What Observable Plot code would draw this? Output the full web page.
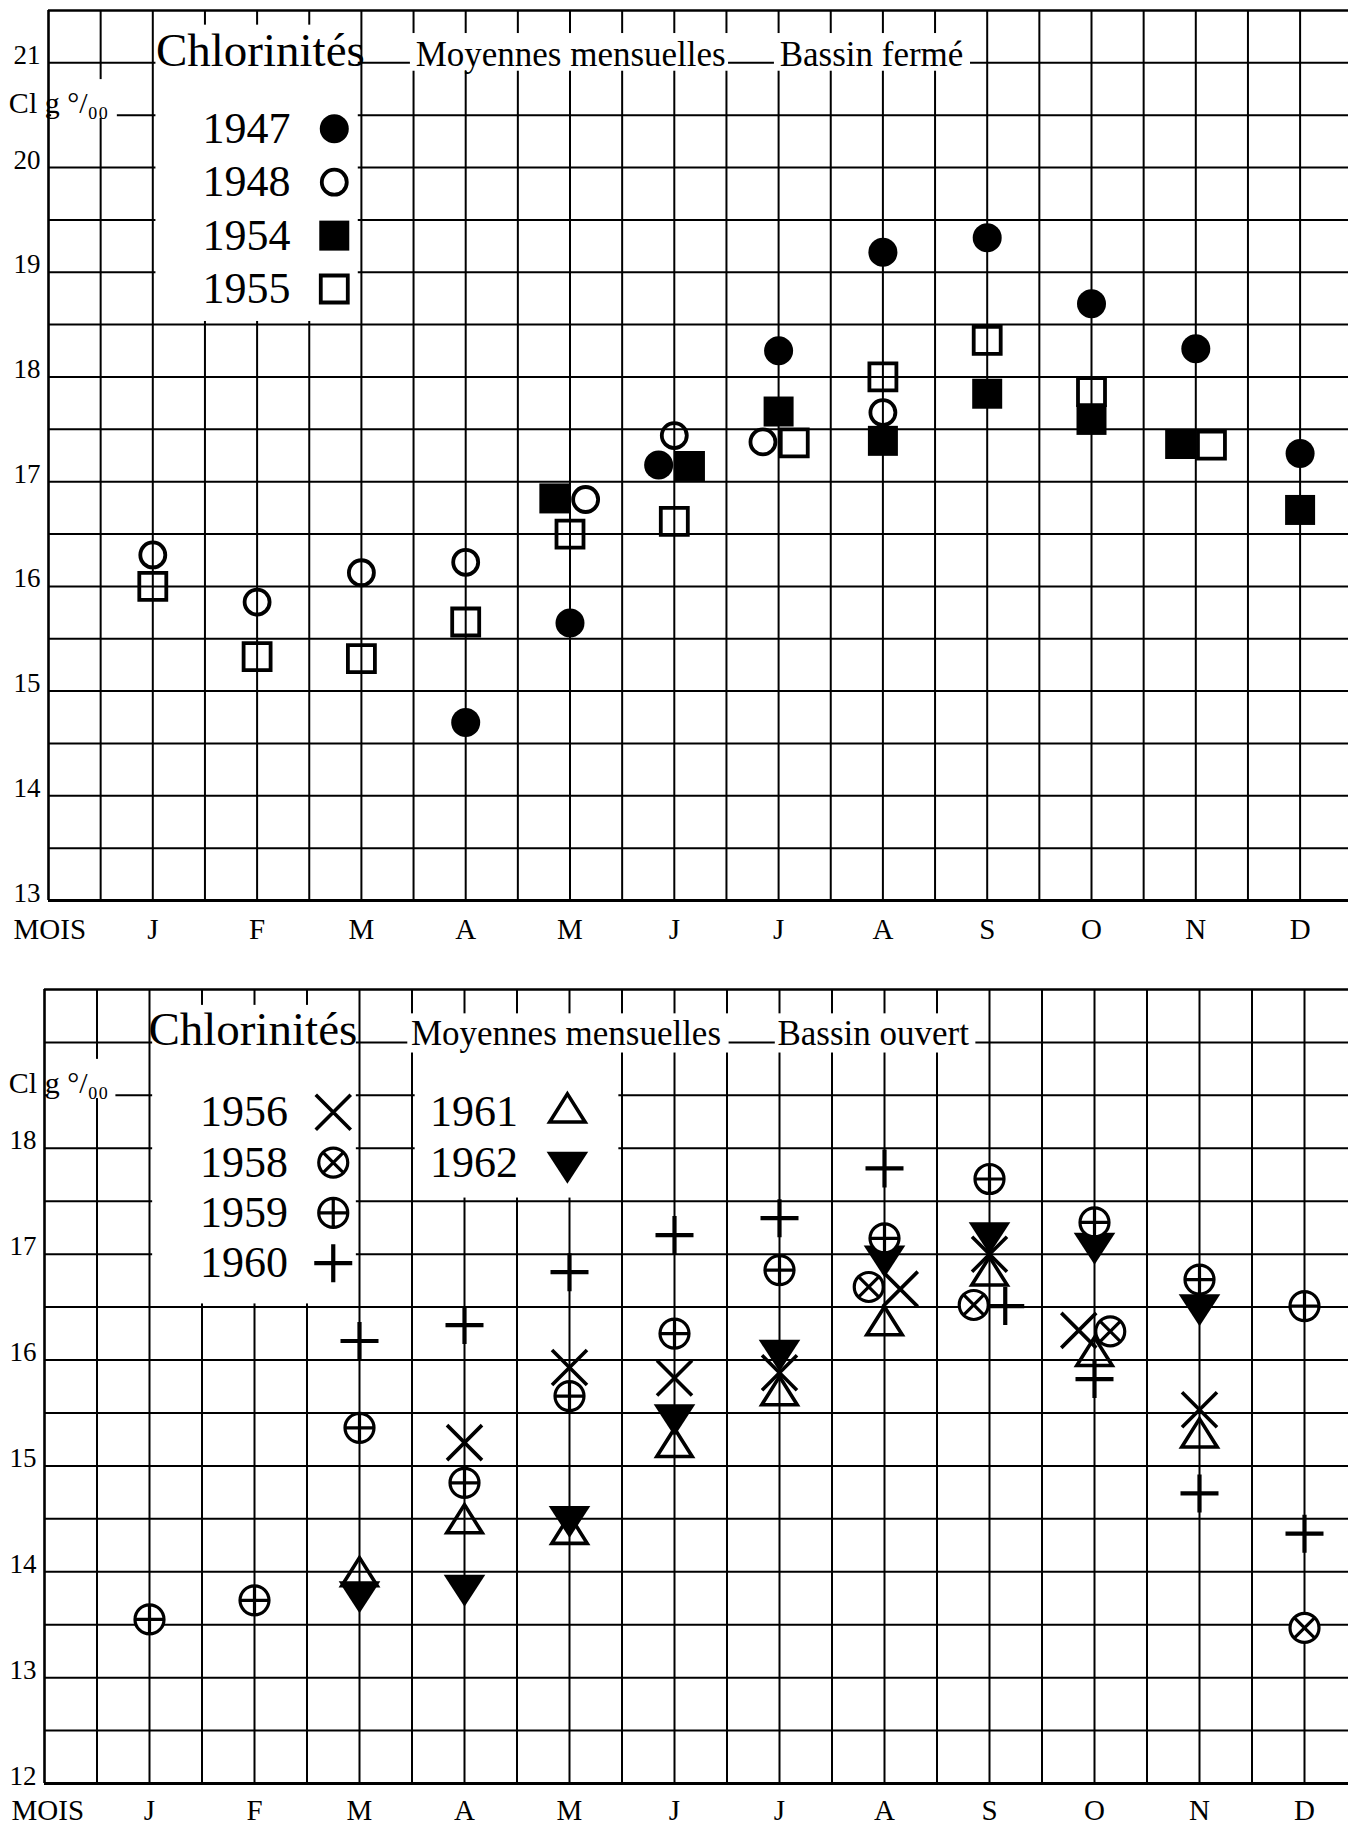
<!DOCTYPE html>
<html>
<head>
<meta charset="utf-8">
<script src="https://cdn.jsdelivr.net/npm/d3@7"></script>
<script src="https://cdn.jsdelivr.net/npm/@observablehq/plot@0.6"></script>
<style>
  body { margin: 0; background: #fff; }
  #chart svg { display: block; }
</style>
</head>
<body>
<div id="chart"></div>
<script>
// ---------------- DATA ----------------
const months = ["J", "F", "M", "A", "M", "J", "J", "A", "S", "O", "N", "D"];
const ticksTop = [13, 14, 15, 16, 17, 18, 19, 20, 21];
const ticksBottom = [12, 13, 14, 15, 16, 17, 18];
const unitLabel = "Cl g °/₀₀";
const axisLabel = "MOIS";
const titleMain = "Chlorinités";
const titleSub = "Moyennes mensuelles";
const titleTop = "Bassin fermé";
const titleBottom = "Bassin ouvert";

// Bassin fermé (Cl g/l), monthly means J..D
const yearsTop = [1947, 1948, 1954, 1955];
const v1947 = [null, null, null, 14.70, 15.65, 17.16, 18.25, 19.19, 19.33, 18.70, 18.27, 17.27];
const v1948 = [16.30, 15.85, 16.13, 16.23, 16.83, 17.44, 17.38, 17.66, null, null, null, null];
const v1954 = [null, null, null, null, 16.84, 17.15, 17.67, 17.39, 17.84, 17.59, 17.36, 16.73];
const v1955 = [16.00, 15.33, 15.31, 15.66, 16.50, 16.62, 17.37, 18.00, 18.35, 17.86, 17.35, null];

// Bassin ouvert
const yearsBottomA = [1956, 1958, 1959, 1960];
const yearsBottomB = [1961, 1962];
const v1956 = [null, null, null, 15.22, 15.93, 15.83, 15.88, 16.67, 17.00, 16.28, 15.53, null];
const v1958 = [null, null, null, null, null, null, null, 16.69, 16.52, 16.27, null, 13.47];
const v1959 = [13.55, 13.73, 15.36, 14.84, 15.66, 16.25, 16.85, 17.15, 17.71, 17.30, 16.76, 16.51];
const v1960 = [null, null, 16.18, 16.33, 16.83, 17.18, 17.34, 17.81, 16.51, 15.82, 14.74, 14.36];
const v1961 = [null, null, 13.96, 14.46, 14.36, 15.18, 15.67, 16.33, 16.80, 16.04, 15.27, null];
const v1962 = [null, null, 13.81, 13.87, 14.52, 15.48, 16.09, 16.98, 17.20, 17.10, 16.52, null];

// ---------------- SYMBOLS ----------------
function sym(fn) { return { draw(ctx, size) { fn(ctx, Math.sqrt(size / Math.PI)); } }; }
const SYM = {
  circle: sym((c, r) => { c.moveTo(r, 0); c.arc(0, 0, r, 0, 2 * Math.PI); c.closePath(); }),
  square: sym((c, r) => { c.moveTo(-r, -r); c.lineTo(r, -r); c.lineTo(r, r); c.lineTo(-r, r); c.closePath(); }),
  times: sym((c, r) => { c.moveTo(-r, -r); c.lineTo(r, r); c.moveTo(-r, r); c.lineTo(r, -r); }),
  plus: sym((c, r) => { c.moveTo(-r, 0); c.lineTo(r, 0); c.moveTo(0, -r); c.lineTo(0, r); }),
  oplus: sym((c, r) => { c.moveTo(r, 0); c.arc(0, 0, r, 0, 2 * Math.PI); c.closePath(); c.moveTo(-r, 0); c.lineTo(r, 0); c.moveTo(0, -r); c.lineTo(0, r); }),
  otimes: sym((c, r) => { const k = r * Math.SQRT1_2; c.moveTo(r, 0); c.arc(0, 0, r, 0, 2 * Math.PI); c.closePath(); c.moveTo(-k, -k); c.lineTo(k, k); c.moveTo(-k, k); c.lineTo(k, -k); }),
  triUp: sym((c, r) => { c.moveTo(0, -1.27 * r); c.lineTo(1.22 * r, 0.67 * r); c.lineTo(-1.22 * r, 0.67 * r); c.closePath(); }),
  triDown: sym((c, r) => { c.moveTo(0, 1.33 * r); c.lineTo(1.3 * r, -0.67 * r); c.lineTo(-1.3 * r, -0.67 * r); c.closePath(); })
};

const styles = {
  1947: { symbol: SYM.circle, fill: "black", stroke: "none", strokeWidth: 0, r: 14.5 },
  1948: { symbol: SYM.circle, fill: "none", stroke: "black", strokeWidth: 3.8, r: 12.5 },
  1954: { symbol: SYM.square, fill: "black", stroke: "none", strokeWidth: 0, r: 15 },
  1955: { symbol: SYM.square, fill: "none", stroke: "black", strokeWidth: 3.8, r: 13.5 },
  1956: { symbol: SYM.times, fill: "none", stroke: "black", strokeWidth: 3.6, r: 17.5 },
  1958: { symbol: SYM.otimes, fill: "white", stroke: "black", strokeWidth: 3.2, r: 14.5 },
  1959: { symbol: SYM.oplus, fill: "white", stroke: "black", strokeWidth: 3.2, r: 14.5 },
  1960: { symbol: SYM.plus, fill: "none", stroke: "black", strokeWidth: 4.2, r: 19 },
  1961: { symbol: SYM.triUp, fill: "none", stroke: "black", strokeWidth: 3.6, r: 14.5 },
  1962: { symbol: SYM.triDown, fill: "black", stroke: "none", strokeWidth: 0, r: 16 }
};

// Points, with coincident values of a month spread side by side (higher value on the left)
function buildPoints(seriesList, thr, off) {
  const pts = [];
  seriesList.forEach(([year, vals]) => vals.forEach((v, i) => { if (v != null) pts.push({ year, month: i + 1, value: v }); }));
  for (const [m, arr] of d3.group(pts, d => d.month)) {
    arr.sort((a, b) => d3.descending(a.value, b.value));
    const clusters = [];
    let cur = [arr[0]];
    for (let k = 1; k < arr.length; k++) {
      if (Math.abs(arr[k].value - cur[cur.length - 1].value) < thr) cur.push(arr[k]);
      else { clusters.push(cur); cur = [arr[k]]; }
    }
    clusters.push(cur);
    for (const c of clusters) c.forEach((p, j) => { p.pos = m + (j - (c.length - 1) / 2) * off * 2; });
  }
  return pts;
}

const FONT = "'Liberation Serif', 'DejaVu Serif', serif";

function panel(cfg) {
  const [yMin, yMax] = cfg.yDomain;
  const xMax = cfg.xMax;
  const vx = d3.range(0, xMax, 0.5);
  const hy = d3.range(yMin, yMax + 0.001, 0.5);
  const marks = [];
  // grid
  marks.push(Plot.ruleX(vx, { x: d => d, y1: () => yMin, y2: () => yMax, stroke: "black", strokeWidth: d => (d === 0 ? 2.6 : 2) }));
  marks.push(Plot.ruleY(hy, { y: d => d, x1: () => 0, x2: () => xMax, stroke: "black", strokeWidth: d => (d === yMin ? 3 : d === yMax ? 2.4 : 2) }));
  // white boxes for legend and titles
  marks.push(Plot.rect(cfg.boxes, { x1: "x1", x2: "x2", y1: "y1", y2: "y2", fill: "white" }));
  // titles
  for (const t of cfg.titles) {
    marks.push(Plot.text([t.text], { x: () => t.x, y: () => t.y, text: d => d, textAnchor: "start", lineAnchor: "bottom", fontSize: t.size, fill: "black" }));
  }
  // unit label
  marks.push(Plot.text([unitLabel], { x: () => cfg.unit.x, y: () => cfg.unit.y, text: d => d, textAnchor: "start", lineAnchor: "bottom", fontSize: 30, fill: "black" }));
  // y tick labels
  marks.push(Plot.text(cfg.ticks, { x: () => 0, y: d => d, text: d => String(d), textAnchor: "end", lineAnchor: "bottom", dx: -8, dy: 1, fontSize: 27, fill: "black" }));
  // month labels
  marks.push(Plot.text(months, { x: (d, i) => i + 1, y: () => yMin, text: d => d, lineAnchor: "middle", dy: cfg.monthDy, fontSize: 29, fill: "black" }));
  marks.push(Plot.text([axisLabel], { x: () => 0, y: () => yMin, text: d => d, textAnchor: "start", lineAnchor: "middle", dx: cfg.moisDx, dy: cfg.monthDy, fontSize: 29, fill: "black" }));
  // legend
  for (const col of cfg.legend) {
    marks.push(Plot.text(col.years, { x: () => col.textX, y: (d, i) => col.y0 - col.step * i, text: d => String(d), textAnchor: "end", lineAnchor: "middle", fontSize: 44, fill: "black" }));
    col.years.forEach((yr, i) => {
      const s = styles[yr];
      marks.push(Plot.dot([yr], { x: () => col.symX, y: () => col.y0 - col.step * i, symbol: s.symbol, r: s.r, fill: s.fill, stroke: s.stroke, strokeWidth: s.strokeWidth }));
    });
  }
  // data
  for (const yr of cfg.drawOrder) {
    const s = styles[yr];
    marks.push(Plot.dot(cfg.points.filter(p => p.year === yr), { x: "pos", y: "value", symbol: s.symbol, r: s.r, fill: s.fill, stroke: s.stroke, strokeWidth: s.strokeWidth, strokeLinejoin: "miter" }));
  }
  return Plot.plot({
    width: 1348,
    height: cfg.height,
    marginLeft: cfg.marginLeft,
    marginRight: 0,
    marginTop: cfg.marginTop,
    marginBottom: cfg.marginBottom,
    x: { domain: [0, xMax], axis: null },
    y: { domain: [yMin, yMax], axis: null },
    style: { fontFamily: FONT, background: "white", color: "black", overflow: "visible" },
    marks
  });
}

const topPoints = buildPoints([[1947, v1947], [1948, v1948], [1954, v1954], [1955, v1955]], 0.06, 0.15);
const bottomPoints = buildPoints([[1956, v1956], [1958, v1958], [1959, v1959], [1960, v1960], [1961, v1961], [1962, v1962]], 0.06, 0.15);

const topChart = panel({
  height: 960, marginLeft: 48, marginTop: 10, marginBottom: 60,
  xMax: 1300 / 104.3, yDomain: [13, 21.5], ticks: ticksTop,
  monthDy: 29, moisDx: -35,
  boxes: [
    { x1: 1.03, x2: 2.97, y1: 18.53, y2: 21.36 },
    { x1: 3.47, x2: 6.52, y1: 20.92, y2: 21.28 },
    { x1: 6.96, x2: 8.84, y1: 20.92, y2: 21.28 },
    { x1: 0.03, x2: 0.66, y1: 20.47, y2: 20.84 }
  ],
  titles: [
    { text: titleMain, x: 1.03, y: 20.97, size: 47 },
    { text: titleSub, x: 3.52, y: 20.97, size: 35 },
    { text: titleTop, x: 7.01, y: 20.97, size: 35 }
  ],
  unit: { x: -0.38, y: 20.52 },
  legend: [{ years: yearsTop, textX: 2.32, symX: 2.74, y0: 20.37, step: 0.51 }],
  points: topPoints,
  drawOrder: [1954, 1955, 1947, 1948]
});

const bottomChart = panel({
  height: 866, marginLeft: 44, marginTop: 29, marginBottom: 43,
  xMax: 1304 / 105, yDomain: [12, 19.5], ticks: ticksBottom,
  monthDy: 27, moisDx: -33,
  boxes: [
    { x1: 1.03, x2: 2.97, y1: 16.53, y2: 19.35 },
    { x1: 3.53, x2: 5.47, y1: 17.53, y2: 19.0 },
    { x1: 3.46, x2: 6.52, y1: 18.9, y2: 19.27 },
    { x1: 6.96, x2: 8.87, y1: 18.9, y2: 19.27 },
    { x1: 0.03, x2: 0.68, y1: 18.47, y2: 18.84 }
  ],
  titles: [
    { text: titleMain, x: 0.99, y: 18.98, size: 47 },
    { text: titleSub, x: 3.49, y: 18.98, size: 35 },
    { text: titleBottom, x: 6.98, y: 18.98, size: 35 }
  ],
  unit: { x: -0.34, y: 18.52 },
  legend: [
    { years: yearsBottomA, textX: 2.32, symX: 2.75, y0: 18.34, step: 0.475 },
    { years: yearsBottomB, textX: 4.51, symX: 4.98, y0: 18.34, step: 0.475 }
  ],
  points: bottomPoints,
  drawOrder: [1962, 1961, 1956, 1960, 1958, 1959]
});

document.getElementById("chart").append(topChart, bottomChart);
</script>
</body>
</html>
